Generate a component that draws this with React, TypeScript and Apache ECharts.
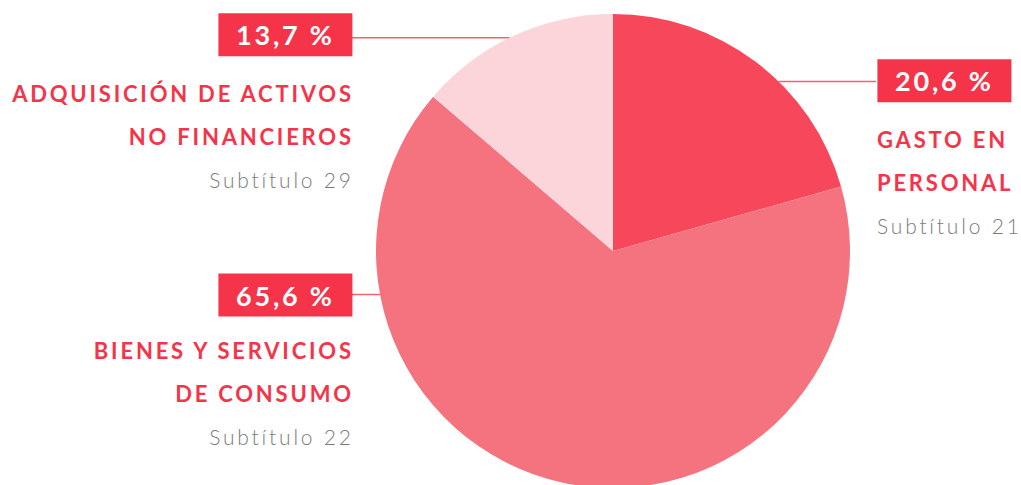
import React, { useEffect, useRef } from 'react';
import * as echarts from 'echarts';

// ---- data ----
const categories = ['GASTO EN PERSONAL', 'BIENES Y SERVICIOS DE CONSUMO', 'ADQUISICIÓN DE ACTIVOS NO FINANCIEROS'];
const titleLines = [
  ['GASTO EN', 'PERSONAL'],
  ['BIENES Y SERVICIOS', 'DE CONSUMO'],
  ['ADQUISICIÓN DE ACTIVOS', 'NO FINANCIEROS'],
];
const subtitles = ['Subtítulo 21', 'Subtítulo 22', 'Subtítulo 29'];
const values = [20.6, 65.6, 13.7];
const percentLabels = ['20,6 %', '65,6 %', '13,7 %'];
const sliceColors = ['#f7485b', '#f5727f', '#fcd5da'];

// ---- layout (pixels) ----
const CX = 613;
const CY = 251;
const R = 237;
const SPACING = 2.8;
const BOX_W = 134;
const BOX_H = 43;
const boxLayout = [
  { cx: 943, cy: 80.8, lineY: 81.5, side: 1 },
  { cx: 284, cy: 295, lineY: 294.5, side: -1 },
  { cx: 284, cy: 34.7, lineY: 37.7, side: -1 },
];
const titleLayout = [
  { x: 877, top: 139 - 21.5, align: 'left' },
  { x: 351 + SPACING, top: 350.5 - 21.5, align: 'right' },
  { x: 351 + SPACING, top: 93.3 - 21.5, align: 'right' },
];

const RED = '#f5344a';

export default function App() {
  const ref = useRef<HTMLDivElement>(null);
  useEffect(() => {
    if (!ref.current) return;
    const chart = echarts.init(ref.current, null, { renderer: 'svg' });
    const dataA = values.map((v, i) => ({ name: categories[i], value: v, itemStyle: { color: sliceColors[i] } }));
    const dataB = values.map((v, i) => ({
      name: categories[i],
      value: v,
      itemStyle: { color: 'rgba(0,0,0,0)' },
      label: { align: titleLayout[i].align },
    }));
    chart.setOption({
      animation: false,
      backgroundColor: '#ffffff',
      series: [
        {
          type: 'pie',
          center: [CX, CY],
          radius: R,
          startAngle: 90,
          clockwise: true,
          avoidLabelOverlap: false,
          silent: true,
          data: dataA,
          label: {
            show: true,
            position: 'outside',
            formatter: (p: any) => percentLabels[p.dataIndex],
            color: '#ffffff',
            fontFamily: 'Lato',
            fontWeight: 700,
            fontSize: 27,
            backgroundColor: RED,
            width: BOX_W,
            height: BOX_H,
            lineHeight: BOX_H,
            padding: 0,
            align: 'center',
          },
          labelLine: {
            show: true,
            length: 10,
            length2: 10,
            lineStyle: { color: '#f4606f', width: 1.5 },
          },
          labelLayout: (p: any) => {
            const b = boxLayout[p.dataIndex];
            const dy = b.lineY - CY;
            const ex = CX + b.side * Math.sqrt(R * R - dy * dy);
            const bx = b.cx - (b.side * BOX_W) / 2;
            return {
              x: b.cx + SPACING / 2,
              y: b.cy,
              align: 'center',
              verticalAlign: 'middle',
              labelLinePoints: [
                [ex, b.lineY],
                [(ex + bx) / 2, b.lineY],
                [bx, b.lineY],
              ],
            };
          },
        },
        {
          type: 'pie',
          center: [CX, CY],
          radius: R,
          startAngle: 90,
          clockwise: true,
          avoidLabelOverlap: false,
          silent: true,
          z: 3,
          data: dataB,
          label: {
            show: true,
            position: 'outside',
            formatter: (p: any) =>
              titleLines[p.dataIndex].map((t) => `{t|${t}}`).join('\n') + `\n{s|${subtitles[p.dataIndex]}}`,
            rich: {
              t: { fontFamily: 'Lato', fontWeight: 700, fontSize: 22, color: RED, lineHeight: 43 },
              s: { fontFamily: 'Lato', fontWeight: 300, fontSize: 21, color: '#7c7c7c', lineHeight: 43 },
            },
          },
          labelLine: { show: false },
          labelLayout: (p: any) => {
            const t = titleLayout[p.dataIndex];
            return { x: t.x, y: t.top, align: t.align, verticalAlign: 'top' };
          },
        },
      ],
    });
    return () => chart.dispose();
  }, []);
  return (
    <>
      <style>{`#chart-box text { letter-spacing: ${SPACING}px; }`}</style>
      <div
        id="chart-box"
        ref={ref}
        style={{ position: 'fixed', left: 0, top: 0, width: 1021, height: 485 }}
      />
    </>
  );
}
